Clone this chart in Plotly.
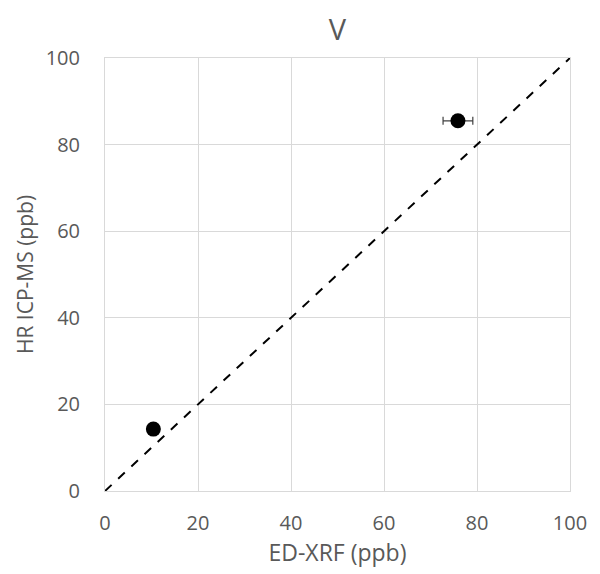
import plotly.graph_objects as go

x_vals = [10.4, 75.9]
y_vals = [14.3, 85.5]
x_err = [1.0, 3.2]
line_x = [0, 100]
line_y = [0, 100]
ticks = [0, 20, 40, 60, 80, 100]

fig = go.Figure()
fig.add_trace(go.Scatter(x=line_x, y=line_y, mode="lines",
                         line=dict(color="black", width=2, dash="dash"), showlegend=False))
fig.add_trace(go.Scatter(x=x_vals, y=y_vals, mode="markers",
                         marker=dict(color="black", size=15),
                         error_x=dict(type="data", array=x_err, color="#404040", thickness=1.2, width=4),
                         showlegend=False))

font_fam = "Open Sans, sans-serif"
fig.update_layout(
    width=600, height=574,
    margin=dict(l=105, r=30, t=58, b=83),
    paper_bgcolor="white", plot_bgcolor="white",
    title=dict(text="V", x=0.5, xref="paper", y=0.948, yanchor="middle",
               font=dict(family=font_fam, size=29, color="#595959")),
    font=dict(family=font_fam, color="#595959"),
    xaxis=dict(range=[0, 100], tickvals=ticks, showgrid=True, gridcolor="#d9d9d9", gridwidth=1,
               zeroline=False, showline=True, linecolor="#d9d9d9", mirror=True,
               tickfont=dict(size=20, color="#595959"), ticks="outside", ticklen=14, tickcolor="white",
               title=dict(text="ED-XRF (ppb)", font=dict(size=23, color="#595959"), standoff=0)),
    yaxis=dict(range=[0, 100], tickvals=ticks, showgrid=True, gridcolor="#d9d9d9", gridwidth=1,
               zeroline=False, showline=True, linecolor="#d9d9d9", mirror=True,
               tickfont=dict(size=20, color="#595959"), ticks="outside", ticklen=20, tickcolor="white",
               title=dict(text="HR ICP-MS (ppb)", font=dict(size=21, color="#595959"), standoff=6)),
)
fig.write_html("out.html")
